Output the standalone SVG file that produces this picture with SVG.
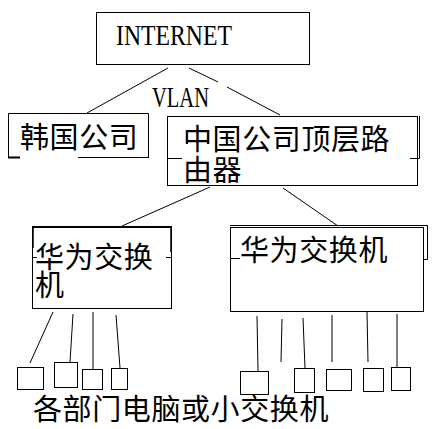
<svg xmlns="http://www.w3.org/2000/svg" width="443" height="429" viewBox="0 0 443 429">
<style>
.b{fill:none;stroke:#000;stroke-width:1}
.t{font-family:"Noto Sans CJK SC","Noto Sans CJK JP",sans-serif;font-size:29px;fill:#000;letter-spacing:0.6px}
.s{font-family:"Liberation Serif","DejaVu Serif",serif;font-size:29px;fill:#000}
.c{fill:none;stroke:#000;stroke-width:1}
</style>
<rect width="443" height="429" fill="#fff"/>
<g id="connectors">
<path class="c" d="M168,68 L87,113"/>
<path class="c" d="M189,68 L218,82"/>
<path class="c" d="M227,87 L280,115"/>
<path class="c" d="M210,187 L122,226"/>
<path class="c" d="M283,188 L338,226"/>
<path class="c" d="M53,312 L30,363"/>
<path class="c" d="M73,314 L70,362"/>
<path class="c" d="M93,312 L93,369"/>
<path class="c" d="M116,315 L120,368"/>
<path class="c" d="M257,316 L258,371"/>
<path class="c" d="M282,319 L281,362"/>
<path class="c" d="M303,318 L305,368"/>
<path class="c" d="M332,315 L332,362"/>
<path class="c" d="M367,312 L368,362"/>
<path class="c" d="M397,314 L397,367"/>
</g>
<g id="internet">
<rect class="b" x="96.5" y="12.5" width="213" height="52"/>
<text class="s" x="116" y="45" textLength="116" lengthAdjust="spacingAndGlyphs">INTERNET</text>
</g>
<g id="vlan">
<text class="s" x="152" y="107" textLength="57" lengthAdjust="spacingAndGlyphs">VLAN</text>
</g>
<g id="korea">
<path class="b" d="M8.5,157 V113.5 H148.5 V157 M78,157.5 H149"/>
<path d="M8,157.5 H20" stroke="#000" stroke-width="2"/>
<text class="t" x="20" y="148">韩国公司</text>
</g>
<g id="router">
<rect class="b" x="167.5" y="116.5" width="250" height="69"/>
<path class="b" d="M419.5,116 V158.5 H410 M167,158.5 H182"/>
<text class="t" x="183" y="150">中国公司顶层路<tspan x="183" dy="31">由器</tspan></text>
</g>
<g id="switch1">
<rect class="b" x="32.5" y="227.5" width="139" height="81"/>
<path d="M32,227 H172" stroke="#000" stroke-width="2"/>
<path d="M33,227 V248 M171,227 V252" stroke="#000" stroke-width="1.5"/>
<path class="b" d="M32,257.5 H37 M166,257.5 H172"/>
<text class="t" x="35" y="268">华为交换<tspan x="35" dy="28">机</tspan></text>
</g>
<g id="switch2">
<rect class="b" x="230.5" y="227.5" width="193" height="84"/>
<path class="b" d="M230,225.5 H427.5 V259.5 H424 M230,258.5 H240"/>
<text class="t" x="240" y="261">华为交换机</text>
</g>
<g id="pcs">
<rect class="b" x="17.5" y="367.5" width="26" height="22"/>
<rect class="b" x="54.5" y="362.5" width="23" height="25"/>
<rect class="b" x="82.5" y="369.5" width="20" height="20"/>
<rect class="b" x="111.5" y="368.5" width="16" height="21"/>
<rect class="b" x="240.5" y="371.5" width="28" height="23"/>
<rect class="b" x="294.5" y="368.5" width="20" height="24"/>
<rect class="b" x="326.5" y="369.5" width="25" height="21"/>
<rect class="b" x="363.5" y="368.5" width="20" height="23"/>
<rect class="b" x="391.5" y="367.5" width="19" height="23"/>
</g>
<g id="label">
<text class="t" x="33" y="420" letter-spacing="1">各部门电脑或小交换机</text>
</g>
</svg>
